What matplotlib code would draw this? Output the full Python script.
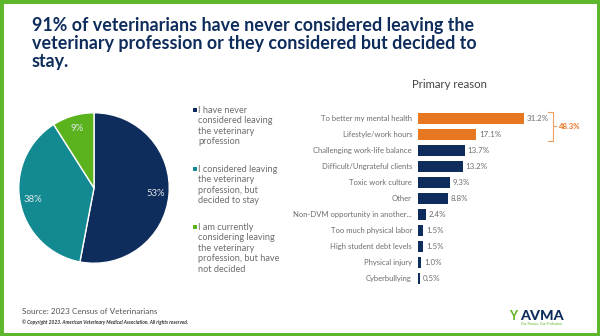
import matplotlib.pyplot as plt
from matplotlib.patches import Rectangle

plt.rcParams['font.family'] = ['Lato', 'DejaVu Sans']

NAVY = '#0f2d5c'
TEAL = '#138a91'
GREEN = '#5ab31c'
ORANGE = '#e87722'
GRAY = '#6d6d6d'

# pie: share of veterinarians by intention
pie_labels = ['I have never\nconsidered leaving\nthe veterinary\nprofession',
              'I considered leaving\nthe veterinary\nprofession, but\ndecided to stay',
              'I am currently\nconsidering leaving\nthe veterinary\nprofession, but have\nnot decided']
pie_values = [53, 38, 9]
pie_colors = [NAVY, TEAL, GREEN]

# bars: primary reason
reasons = ['To better my mental health', 'Lifestyle/work hours',
           'Challenging work-life balance', 'Difficult/Ungrateful clients',
           'Toxic work culture', 'Other', 'Non-DVM opportunity in another...',
           'Too much physical labor', 'High student debt levels',
           'Physical injury', 'Cyberbullying']
reason_pct = [31.2, 17.1, 13.7, 13.2, 9.3, 8.8, 2.4, 1.5, 1.5, 1.0, 0.5]
highlight = 2  # first two bars are highlighted and summed

W, H = 600, 336
fig = plt.figure(figsize=(W / 100, H / 100), dpi=100)


def box(x0, y0, x1, y1):
    # pixel box (top-left origin) -> figure fraction rect
    return [x0 / W, 1 - y1 / H, (x1 - x0) / W, (y1 - y0) / H]


def px(x, y):
    return x / W, 1 - y / H


# green frame
fig.patches.append(Rectangle((0, 0), 1, 1, transform=fig.transFigure,
                             fill=False, edgecolor='#5cb82a', linewidth=5))

fig.text(*px(32, 17), '91% of veterinarians have never considered leaving the\n'
         'veterinary profession or they considered but decided to\nstay.',
         fontsize=12.9, fontweight='bold', color=NAVY, va='top', ha='left',
         linespacing=1.08)

# pie
ax_pie = fig.add_axes(box(18, 112, 170, 264))
wedges, texts, autotexts = ax_pie.pie(
    pie_values, colors=pie_colors, startangle=90, counterclock=False, radius=1,
    wedgeprops=dict(edgecolor='white', linewidth=1),
    autopct=lambda p: f'{p:.0f}%', pctdistance=0.82,
    textprops=dict(color='#dfe6ea', fontsize=6.8))
ax_pie.set_xlim(-1.01, 1.01)
ax_pie.set_ylim(-1.01, 1.01)
ax_pie.set_aspect('equal')

# legend for pie
leg_y = [106, 165, 223]
for lab, col, y in zip(pie_labels, pie_colors, leg_y):
    fig.patches.append(Rectangle(px(193, y + 6), 4 / W, 4 / H, transform=fig.transFigure,
                                 facecolor=col, edgecolor='none'))
    fig.text(*px(198, y), lab, fontsize=6.6, color=GRAY, va='top', ha='left',
             linespacing=1.2)

# bars
ax_bar = fig.add_axes(box(418, 110, 588, 287))
ys = list(range(len(reasons)))
bar_colors = [ORANGE if i < highlight else NAVY for i in ys]
ax_bar.barh(ys, reason_pct, height=0.68, color=bar_colors)
ax_bar.set_xlim(0, 50)
ax_bar.set_ylim(len(reasons) - 0.5, -0.5)
ax_bar.axis('off')
for y, (lab, v) in enumerate(zip(reasons, reason_pct)):
    ax_bar.text(-1.8, y, lab, ha='right', va='center', fontsize=5.5, color=GRAY)
    ax_bar.text(v + 0.8, y, f'{v:.1f}%', ha='left', va='center', fontsize=5.7, color=GRAY)

# bracket summing the highlighted reasons
total = sum(reason_pct[:highlight])
bx = 39.7
ax_bar.plot([bx - 1.4, bx, bx, bx - 1.4], [-0.4, -0.4, highlight - 0.6, highlight - 0.6],
            color='#f0a060', linewidth=0.8, clip_on=False)
ax_bar.plot([bx, bx + 1.0], [(highlight - 1) / 2, (highlight - 1) / 2],
            color='#f0a060', linewidth=0.8, clip_on=False)
ax_bar.text(bx + 1.8, (highlight - 1) / 2, f'{total:.1f}%', ha='left', va='center',
            fontsize=5.6, fontweight='bold', color=ORANGE, clip_on=False)

fig.text(*px(412, 85), 'Primary reason', fontsize=8.2, color='#444444', va='center', ha='left')

# footer
fig.text(*px(22, 312), 'Source: 2023 Census of Veterinarians', fontsize=5.9,
         color='#555555', va='center', ha='left')
fig.text(*px(22, 322), '\u00a9 Copyright 2023. American Veterinary Medical Association. All rights reserved.',
         fontsize=3.5, fontstyle='italic', fontweight='bold', color='#333333',
         va='center', ha='left')
fig.text(*px(509, 316), 'Y', fontsize=9, fontweight='bold', color=GREEN, va='center', ha='left')
fig.text(*px(520, 316), 'AVMA', fontsize=10.3, fontweight='black', color=NAVY, va='center', ha='left')
fig.text(*px(521, 324), 'Our Passion. Our Profession.', fontsize=2.3, color=GREEN,
         va='center', ha='left')

fig.savefig('out.png', dpi=100, facecolor='white')
